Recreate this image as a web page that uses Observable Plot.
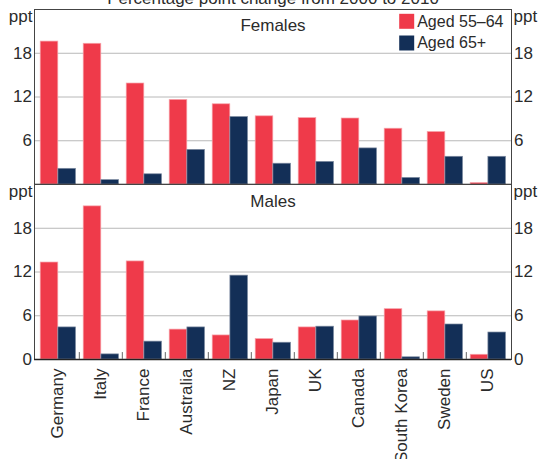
<!DOCTYPE html>
<html><head><meta charset="utf-8">
<script src="https://cdn.jsdelivr.net/npm/d3@7"></script>
<script src="https://cdn.jsdelivr.net/npm/@observablehq/plot@0.6"></script>
<style>
html,body{margin:0;padding:0;background:#fff;}
#chart{position:relative;width:539px;height:459px;overflow:hidden;}
#chart svg{position:absolute;left:0;}
</style></head><body><div id="chart"></div>
<script>
const countries = ["Germany","Italy","France","Australia","NZ","Japan","UK","Canada","South Korea","Sweden","US"];
const females5564 = [19.6, 19.3, 13.85, 11.6, 11.0, 9.35, 9.1, 9.05, 7.65, 7.2, 0.2];
const females65 = [2.15, 0.6, 1.4, 4.75, 9.25, 2.85, 3.1, 4.95, 0.9, 3.8, 3.8];
const males5564 = [13.3, 21.0, 13.45, 4.1, 3.3, 2.8, 4.4, 5.35, 6.9, 6.6, 0.65];
const males65 = [4.4, 0.7, 2.45, 4.4, 11.5, 2.3, 4.5, 5.9, 0.3, 4.8, 3.7];
const panelTitles = ["Females", "Males"];
const ageGroups = ["Aged 55–64", "Aged 65+"];
const yTicksTop = [6, 12, 18];
const yTicksBottom = [0, 6, 12, 18];
const chartTitle = "Percentage point change from 2000 to 2010";
const unit = "ppt";
const colors = ["#ef3a4a", "#132f57"];

const W = 539, ML = 34, MR = 28;
const step = (W - ML - MR) / countries.length;

function panel({v55, v65, name, ticks, marginTop, marginBottom, height, bottomAxis, legend, title, titleDy}) {
  const rows = countries.map((c, i) => ({country: c, a: v55[i], b: v65[i]}));
  const marks = [
    Plot.gridY(ticks.filter(t => t > 0), {stroke: "#b8b8b8", strokeOpacity: 1}),
    Plot.barY(rows, {x: "country", y: "a", fill: colors[0], stroke: "#f7a3aa", strokeWidth: 0.7, insetLeft: 4.2, insetRight: 21.2}),
    Plot.barY(rows, {x: "country", y: "b", fill: colors[1], stroke: "#7d8aa0", strokeWidth: 0.7, insetLeft: 21.9, insetRight: 3.5}),
    Plot.frame({stroke: "#444"}),
    Plot.ruleY([0], {stroke: "#222", strokeWidth: 1.5}),
    Plot.axisY({anchor: "left", ticks, tickSize: 0, tickPadding: 2.5, label: null}),
    Plot.axisY({anchor: "right", ticks, tickSize: 0, tickPadding: 2.5, label: null}),
    Plot.text([unit], {frameAnchor: "top-left", textAnchor: "end", lineAnchor: "top", dx: -2, dy: 0}),
    Plot.text([unit], {frameAnchor: "top-right", textAnchor: "start", lineAnchor: "top", dx: 2, dy: 0}),
    Plot.text([name], {frameAnchor: "top", lineAnchor: "top", dy: titleDy})
  ];
  if (title) {
    marks.push(Plot.text([title], {frameAnchor: "top", lineAnchor: "middle", dy: -10.5}));
  }
  if (legend) {
    ageGroups.forEach((g, i) => {
      marks.push(Plot.dot([g], {frameAnchor: "top-right", symbol: "square", r: 8.46, fill: colors[i], dx: -104.8, dy: 11.8 + 21.7 * i}));
      marks.push(Plot.text([g], {frameAnchor: "top-right", textAnchor: "start", lineAnchor: "top", fontSize: 16, dx: -94.3, dy: 6.3 + 21.3 * i}));
    });
  }
  if (bottomAxis) {
    marks.push(Plot.ruleX(countries.slice(1), {x: d => d, y1: 0, y2: 0.95, dx: -step / 2, stroke: "#666"}));
    marks.push(Plot.axisX({anchor: "bottom", tickSize: 0, tickPadding: 9, tickRotate: -90, label: null}));
  }
  return Plot.plot({
    width: W, height, marginLeft: ML, marginRight: MR, marginTop, marginBottom,
    style: {fontFamily: "'Liberation Sans', Arial, sans-serif", fontSize: "17px", color: "#2b2b2b", background: "transparent"},
    x: {domain: countries, padding: 0, ...(bottomAxis ? {} : {axis: null})},
    y: {domain: [0, 24]},
    marks
  });
}

const chart = document.getElementById("chart");
const top1 = panel({v55: females5564, v65: females65, name: panelTitles[0], ticks: yTicksTop,
  marginTop: 9, marginBottom: 1, height: 185, bottomAxis: false, legend: true, title: chartTitle, titleDy: 9});
top1.style.top = "0px";
const bot = panel({v55: males5564, v65: males65, name: panelTitles[1], ticks: yTicksBottom,
  marginTop: 1, marginBottom: 100, height: 276, bottomAxis: true, legend: false, title: null, titleDy: 10});
bot.style.top = "183px";
chart.appendChild(top1);
chart.appendChild(bot);
</script></body></html>
